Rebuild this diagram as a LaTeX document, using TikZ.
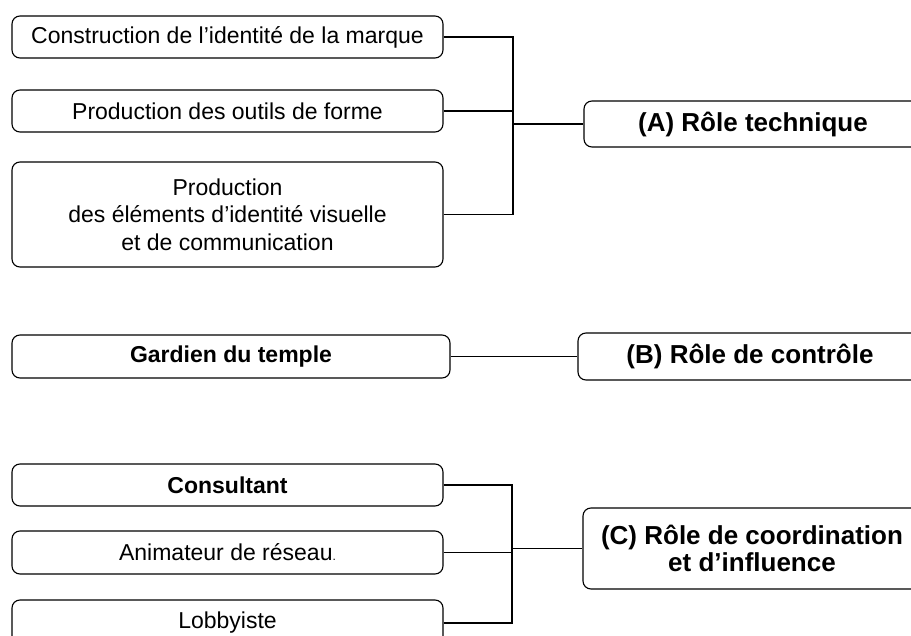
\documentclass[tikz,border=0pt]{standalone}
\usepackage{fontspec}
\setmainfont{Liberation Sans}
\begin{document}
\begin{tikzpicture}[x=1pt,y=-1pt,
  box/.style={draw, rounded corners=8pt, line width=1.1pt, inner sep=0pt, align=center,
    font=\fontsize{23}{27.5}\selectfont},
  role/.style={box, font=\bfseries\fontsize{26}{27.5}\selectfont},
  link/.style={line width=1.1pt}]
\useasboundingbox (0,0) rectangle (911,636);
\clip (0,0) rectangle (911,636);
% group A
\node[box, minimum width=431pt, minimum height=42pt] (n1) at (227.5,37) {Construction de l’identité de la marque};
\node[box, minimum width=431pt, minimum height=42pt] (n2) at (227.5,111) {Production des outils de forme};
\node[box, minimum width=431pt, minimum height=105pt] (n3) at (227.5,214.5) {Production\\des éléments d’identité visuelle\\et de communication};
\node[role, minimum width=338pt, minimum height=46pt] (A) at (753,124) {(A) Rôle technique};
\coordinate (jA) at (513,124);
\draw[link] (n1.east) -| (jA);
\draw[link] (n2.east) -- (n2.east -| jA);
\draw[link] (n3.east) -| (jA);
\draw[link] (jA) -- (A.west);
% group B
\node[box, font=\bfseries\fontsize{23}{27.5}\selectfont, minimum width=438pt, minimum height=43pt] (g) at (231,356.5) {Gardien du temple};
\node[role, minimum width=344pt, minimum height=47pt] (B) at (750,356.5) {(B) Rôle de contrôle};
\draw[link] (g.east) -- (B.west);
% group C
\node[box, font=\bfseries\fontsize{23}{27.5}\selectfont, minimum width=431pt, minimum height=42pt] (c1) at (227.5,485) {Consultant};
\node[box, minimum width=431pt, minimum height=43pt] (c2) at (227.5,552.5) {Animateur de réseau{\fontsize{12}{12}\selectfont .}};
\node[box, minimum width=431pt, minimum height=46pt] (c3) at (227.5,623) {Lobbyiste};
\node[role, minimum width=338pt, minimum height=81pt] (C) at (752,548.5) {(C) Rôle de coordination\\et d’influence};
\coordinate (jC) at (512,548.5);
\draw[link] (c1.east) -| (jC);
\draw[link] (c2.east) -- (c2.east -| jC);
\draw[link] (c3.east) -| (jC);
\draw[link] (jC) -- (C.west);
\end{tikzpicture}
\end{document}
